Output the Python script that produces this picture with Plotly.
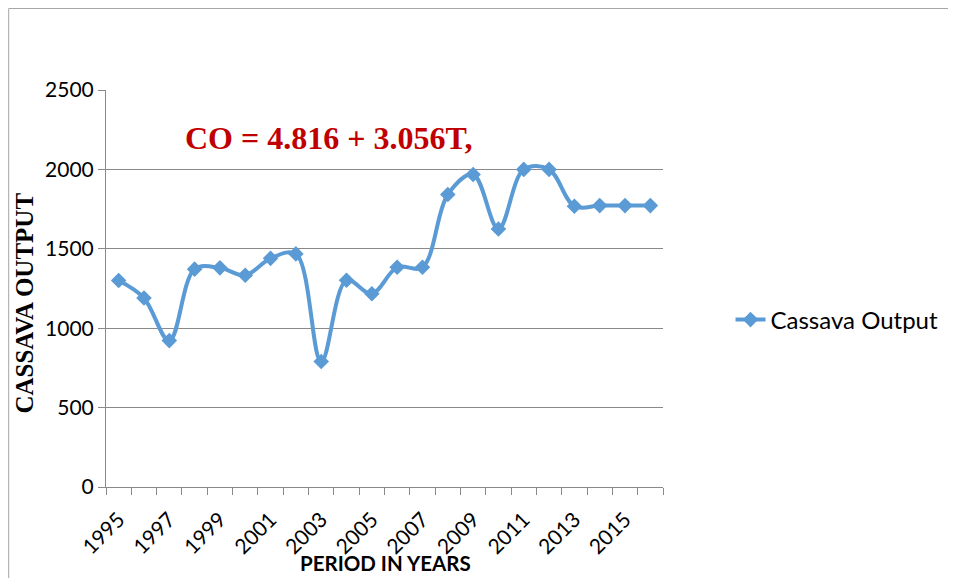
import plotly.graph_objects as go

years = list(range(1995, 2017))
cassava_output = [1300, 1190, 922, 1372, 1380, 1333, 1440, 1468, 790, 1302, 1217,
                  1384, 1384, 1842, 1968, 1625, 2000, 2000, 1768, 1772, 1772, 1772]
tick_years = list(range(1995, 2016, 2))
tick_labels = [str(y) for y in tick_years]

# page body has an 8px default margin; work in page pixel coordinates
OFF = 8
W, H = 956 - OFF, 578 - OFF
PL, PR, PT, PB = 106, 667, 90, 487


def px(x):
    return (x - PL) / (PR - PL)


def py(y):
    return (PB - y) / (PB - PT)


fig = go.Figure()
fig.add_trace(go.Scatter(
    x=years, y=cassava_output, name="Cassava Output",
    mode="lines+markers",
    line=dict(color="#5B9BD5", width=4, shape="spline", smoothing=1.0),
    marker=dict(symbol="diamond", size=12, color="#5B9BD5"),
))

axis_col = "#898989"
fig.update_layout(
    width=W, height=H,
    margin=dict(l=PL - OFF, r=W - (PR - OFF), t=PT - OFF, b=H - (PB - OFF)),
    paper_bgcolor="white", plot_bgcolor="white",
    font=dict(family="Lato", size=21, color="black"),
    showlegend=True,
    legend=dict(x=px(735), y=py(320), xanchor="left", yanchor="middle",
                font=dict(family="Lato", size=24, color="black"),
                bgcolor="rgba(0,0,0,0)"),
    xaxis=dict(range=[1994.5, 2016.5], tickmode="array", tickvals=tick_years,
               ticktext=tick_labels, tickangle=-45, ticks="outside", ticklen=11,
               tickcolor="rgba(0,0,0,0)", showgrid=False,
               showline=True, linecolor=axis_col, linewidth=1, zeroline=False,
               tickfont=dict(family="Lato", size=21, color="black"),
               minor=dict(ticks="outside", ticklen=7, tickcolor=axis_col,
                          tick0=1994.5, dtick=1, showgrid=False)),
    yaxis=dict(range=[0, 2500], tick0=0, dtick=500, showgrid=True,
               gridcolor=axis_col, gridwidth=1, showline=True, linecolor=axis_col,
               linewidth=1, zeroline=False, ticks="outside", ticklen=7,
               tickcolor=axis_col,
               tickfont=dict(family="Lato", size=21, color="black")),
)

fig.add_shape(type="rect", xref="paper", yref="paper",
              x0=px(8), x1=px(975), y0=py(600), y1=py(8.5),
              line=dict(color="#A6A6A6", width=1), fillcolor="rgba(0,0,0,0)",
              layer="below")

fig.add_annotation(text="<b>CO = 4.816 + 3.056T,</b>", xref="paper", yref="paper",
                   x=px(330), y=py(138), xanchor="center", yanchor="middle",
                   showarrow=False,
                   font=dict(family="Liberation Serif", size=32, color="#C00000"))
fig.add_annotation(text="<b>CASSAVA OUTPUT</b>", xref="paper", yref="paper",
                   x=px(23), y=py(303), xanchor="center", yanchor="middle",
                   textangle=-90, showarrow=False,
                   font=dict(family="Liberation Serif", size=25, color="black"))
fig.add_annotation(text="<b>PERIOD IN YEARS</b>", xref="paper", yref="paper",
                   x=px(388), y=py(563), xanchor="center", yanchor="middle",
                   showarrow=False,
                   font=dict(family="Lato", size=20.5, color="black"))

fig.write_html("out.html")
